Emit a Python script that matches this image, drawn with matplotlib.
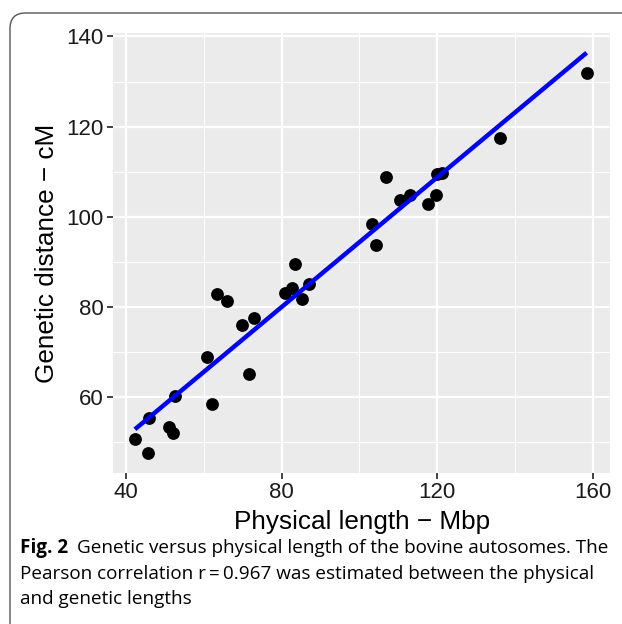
import numpy as np
import matplotlib
matplotlib.use("Agg")
import matplotlib.pyplot as plt
from matplotlib.patches import FancyBboxPatch
from matplotlib.ticker import MultipleLocator

physical_mbp = [42.3, 45.7, 45.9, 51.1, 52.2, 52.6, 60.7, 62.2, 63.5, 65.9,
                69.7, 71.7, 73.0, 80.9, 82.6, 83.4, 85.2, 87.1, 103.2, 104.3,
                106.8, 110.3, 113.0, 117.6, 119.7, 120.0, 121.2, 136.1, 158.4]
genetic_cm = [50.7, 47.7, 55.5, 53.5, 52.2, 60.4, 68.9, 58.5, 82.9, 81.4,
              76.0, 65.1, 77.5, 83.2, 84.2, 89.6, 81.8, 85.1, 98.4, 93.8,
              108.8, 103.7, 104.9, 102.8, 104.9, 109.5, 109.8, 117.6, 132.0]
x_ticks = [40, 80, 120, 160]
y_ticks = [60, 80, 100, 120, 140]

x = np.array(physical_mbp)
y = np.array(genetic_cm)

fig = plt.figure(figsize=(6.22, 6.24), dpi=100)
fig.patch.set_facecolor("white")

# journal frame (rounded top-left corner)
frame = FancyBboxPatch((10 / 622, -0.2), 1.2, (624 - 13) / 624 + 0.2,
                       boxstyle="round,pad=0,rounding_size=0.025",
                       transform=fig.transFigure, facecolor="none",
                       edgecolor="#555555", linewidth=1.0, zorder=0)
fig.patches.append(frame)

ax = fig.add_axes([113.3 / 622, (624 - 472.7) / 624,
                   (610 - 113.3) / 622, (472.7 - 33.3) / 624])
ax.set_facecolor("#EBEBEB")
for s in ax.spines.values():
    s.set_visible(False)

ax.set_xlim(36.74, 164.4)
ax.set_ylim(43.3, 140.7)
ax.set_xticks(x_ticks)
ax.set_yticks(y_ticks)
ax.xaxis.set_minor_locator(MultipleLocator(20))
ax.yaxis.set_minor_locator(MultipleLocator(10))
ax.grid(which="major", color="white", linewidth=1.6)
ax.grid(which="minor", color="white", linewidth=0.7)
ax.set_axisbelow(True)
ax.tick_params(which="major", length=4, width=1.3, color="#333333",
               labelsize=16, labelcolor="#1a1a1a", pad=3)
ax.tick_params(which="minor", length=0)
for lbl in ax.get_xticklabels() + ax.get_yticklabels():
    lbl.set_family("Liberation Sans")

ax.scatter(x, y, s=85, color="black", zorder=3, linewidths=0)
slope, intercept = np.polyfit(x, y, 1)
xs = np.array([x.min(), x.max()])
ax.plot(xs, slope * xs + intercept, color="#0000FF", linewidth=3.2, zorder=4,
        solid_capstyle="butt")

ax.set_xlabel("Physical length \u2212 Mbp", fontsize=18.8, family="Liberation Sans",
              labelpad=5)
ax.set_ylabel("Genetic distance \u2212 cM", fontsize=18.8, family="Liberation Sans",
              labelpad=5)

# caption
cap_font = "Open Sans"
cs = 13.6
fig.text(20 / 622, 1 - 548 / 624, "Fig. 2", fontsize=cs, family=cap_font,
         weight="bold", va="center", ha="left")
fig.text(77 / 622, 1 - 548 / 624,
         "Genetic versus physical length of the bovine autosomes. The",
         fontsize=cs, family=cap_font, va="center", ha="left")
fig.text(20 / 622, 1 - 574 / 624,
         "Pearson correlation r\u2009=\u20090.967 was estimated between the physical",
         fontsize=cs, family=cap_font, va="center", ha="left")
fig.text(20 / 622, 1 - 599 / 624, "and genetic lengths",
         fontsize=cs, family=cap_font, va="center", ha="left")

fig.savefig("out.png", dpi=100, facecolor="white")
